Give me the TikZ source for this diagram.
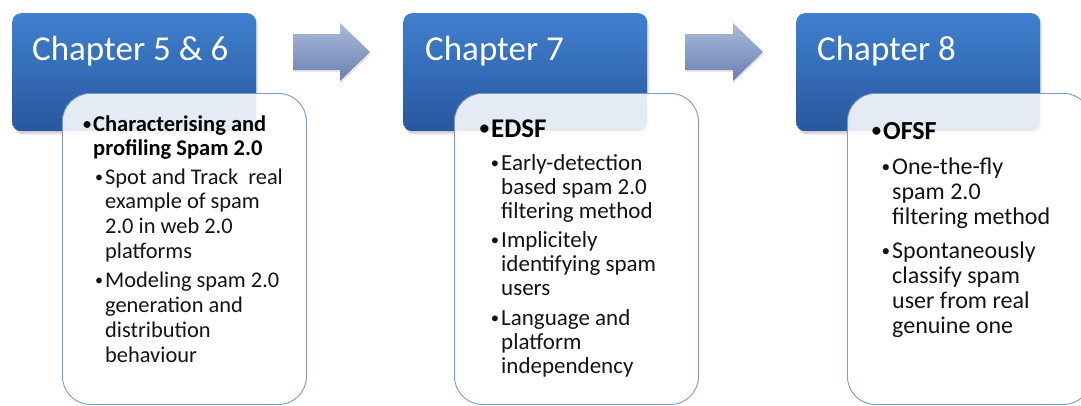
\documentclass[tikz,border=0pt]{standalone}
\usepackage{fontspec}
\setmainfont{Carlito}
\usetikzlibrary{shadows}

\definecolor{chaptop}{RGB}{64,128,207}
\definecolor{chapbot}{RGB}{40,87,158}
\definecolor{panelline}{RGB}{120,155,205}
\definecolor{arrowtop}{RGB}{170,186,219}
\definecolor{arrowbot}{RGB}{106,128,176}
\definecolor{bodytext}{RGB}{20,20,20}

% stacked lines whose reference point is the first baseline
\newcommand{\stackedlines}[1]{\begin{tabular}[t]{@{}l@{}}#1\end{tabular}}
% small list bullet hanging to the left of the text
\newcommand{\bul}{\llap{\raisebox{0.08em}{\scalebox{0.72}{\textbullet}}\kern2pt}}

\begin{document}
\begin{tikzpicture}[x=1pt,y=-1pt,
  chapter/.style={rectangle, rounded corners=9pt, minimum width=244pt,
    minimum height=118pt, anchor=north west, inner sep=0pt,
    top color=chaptop, bottom color=chapbot,
    drop shadow={shadow xshift=1.5pt, shadow yshift=-3pt, opacity=0.3}},
  panel/.style={rectangle, rounded corners=28pt, minimum width=244pt,
    minimum height=311pt, anchor=north west, inner sep=0pt,
    draw=panelline, line width=0.9pt, fill=white, fill opacity=0.88},
  title/.style={anchor=base west, inner sep=0pt, text=white,
    font=\fontsize{35}{42}\selectfont},
  headline/.style={anchor=base west, inner sep=0pt, text=black,
    font=\bfseries\fontsize{#1}{24}\selectfont},
  subitem/.style 2 args={anchor=base west, inner sep=0pt,
    text=bodytext, font=\fontsize{#1}{#2}\selectfont},
  flow/.style={top color=arrowtop, bottom color=arrowbot, draw=none,
    drop shadow={shadow xshift=1pt, shadow yshift=-2pt, opacity=0.2}}
]
\clip (0,0) rectangle (1081,405);

% block arrows between the stages
\path[flow] (293,34) -- (340,34) -- (340,23) -- (370,52) -- (340,81)
  -- (340,70) -- (293,70) -- cycle;
\path[flow] (685,34) -- (733,34) -- (733,23) -- (763,52) -- (733,81)
  -- (733,70) -- (685,70) -- cycle;

% chapter headers
\node[chapter] (ch1) at (12,13) {};
\node[chapter] (ch2) at (403,13) {};
\node[chapter] (ch3) at (796,13) {};
\node[title] (t1) at (32,60) {Chapter 5 \& 6};
\node[title] (t2) at (425,60) {Chapter 7};
\node[title] (t3) at (817,60) {Chapter 8};

% content panels
\node[panel] (p1) at (62,93) {};
\node[panel] (p2) at (454,93) {};
\node[panel] (p3) at (847,93) {};

% Chapter 5 & 6
\node[headline=22.5] (h1) at (93,131)
  {\stackedlines{\bul Characterising and\\profiling Spam 2.0}};
\node[subitem={22.4}{24.7}] (s11) at (105,184)
  {\stackedlines{\bul Spot and Track\ \ real\\example of spam\\2.0 in web 2.0\\platforms}};
\node[subitem={22.4}{25}] (s12) at (105,287)
  {\stackedlines{\bul Modeling spam 2.0\\generation and\\distribution\\behaviour}};

% Chapter 7
\node[headline=27] (h2) at (491,137) {\bul EDSF};
\node[subitem={23}{24}] (s21) at (501,170)
  {\stackedlines{\bul Early-detection\\based spam 2.0\\filtering method}};
\node[subitem={23}{24}] (s22) at (501,247)
  {\stackedlines{\bul Implicitely\\identifying spam\\users}};
\node[subitem={23}{24}] (s23) at (501,325)
  {\stackedlines{\bul Language and\\platform\\independency}};

% Chapter 8
\node[headline=26] (h3) at (883,139) {\bul OFSF};
\node[subitem={24}{25}] (s31) at (892,174)
  {\stackedlines{\bul One-the-fly\\spam 2.0\\filtering method}};
\node[subitem={24}{25}] (s32) at (892,258)
  {\stackedlines{\bul Spontaneously\\classify spam\\user from real\\genuine one}};
\end{tikzpicture}
\end{document}
